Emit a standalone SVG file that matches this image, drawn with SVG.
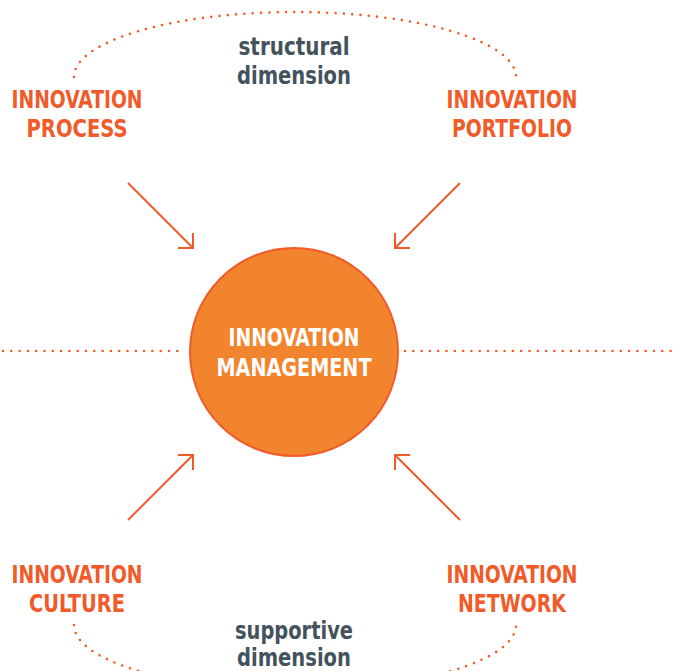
<svg xmlns="http://www.w3.org/2000/svg" width="673" height="671" viewBox="0 0 673 671">
<style>
.lbl{font-family:"Liberation Sans Narrow","DejaVu Sans Condensed","Liberation Sans",sans-serif;font-weight:bold;font-size:25px;fill:#F15A29;text-anchor:middle}
.dim{font-family:"Liberation Sans Narrow","DejaVu Sans Condensed","Liberation Sans",sans-serif;font-weight:bold;font-size:25px;fill:#44525C;text-anchor:middle}
.ctr{font-family:"Liberation Sans Narrow","DejaVu Sans Condensed","Liberation Sans",sans-serif;font-weight:bold;font-size:25px;fill:#FFFFFF;text-anchor:middle}
.dots{fill:none;stroke:#F15A29;stroke-width:2.6;stroke-linecap:round;stroke-dasharray:0 8.3}
.arr{fill:none;stroke:#F15A29;stroke-width:2}
</style>
<rect width="673" height="671" fill="#FFFFFF"/>
<g id="connectors">
<path class="dots" d="M74 77 A221 65 0 0 1 516 77"/>
<path class="dots" d="M74 625 A221 65 0 0 0 516 625"/>
<path class="dots" d="M3 351 H184"/>
<path class="dots" d="M405 351 H673"/>
<g class="arr">
<path d="M128 183 L193 248 M178 248 H193 V233"/>
<path d="M460 183 L395 248 M410 248 H395 V233"/>
<path d="M128 520 L193 455 M178 455 H193 V470"/>
<path d="M460 520 L395 455 M410 455 H395 V470"/>
</g>
</g>
<g id="structural">
<text class="dim" x="294" y="55" textLength="111" lengthAdjust="spacingAndGlyphs">structural</text>
<text class="dim" x="294" y="84" textLength="114" lengthAdjust="spacingAndGlyphs">dimension</text>
</g>
<g id="supportive">
<text class="dim" x="294" y="639" textLength="118" lengthAdjust="spacingAndGlyphs">supportive</text>
<text class="dim" x="294" y="666" textLength="114" lengthAdjust="spacingAndGlyphs">dimension</text>
</g>
<g id="process">
<text class="lbl" x="77" y="108" textLength="131" lengthAdjust="spacingAndGlyphs">INNOVATION</text>
<text class="lbl" x="77" y="137" textLength="101" lengthAdjust="spacingAndGlyphs">PROCESS</text>
</g>
<g id="portfolio">
<text class="lbl" x="512" y="108" textLength="131" lengthAdjust="spacingAndGlyphs">INNOVATION</text>
<text class="lbl" x="512" y="137" textLength="120" lengthAdjust="spacingAndGlyphs">PORTFOLIO</text>
</g>
<g id="culture">
<text class="lbl" x="77" y="583" textLength="131" lengthAdjust="spacingAndGlyphs">INNOVATION</text>
<text class="lbl" x="77" y="612" textLength="96" lengthAdjust="spacingAndGlyphs">CULTURE</text>
</g>
<g id="network">
<text class="lbl" x="512" y="583" textLength="131" lengthAdjust="spacingAndGlyphs">INNOVATION</text>
<text class="lbl" x="512" y="612" textLength="108" lengthAdjust="spacingAndGlyphs">NETWORK</text>
</g>
<g id="management">
<circle cx="294" cy="352" r="104" fill="#F2842E" stroke="#F15A29" stroke-width="2"/>
<text class="ctr" x="294" y="346" textLength="131" lengthAdjust="spacingAndGlyphs">INNOVATION</text>
<text class="ctr" x="294" y="376" textLength="155" lengthAdjust="spacingAndGlyphs">MANAGEMENT</text>
</g>
</svg>
